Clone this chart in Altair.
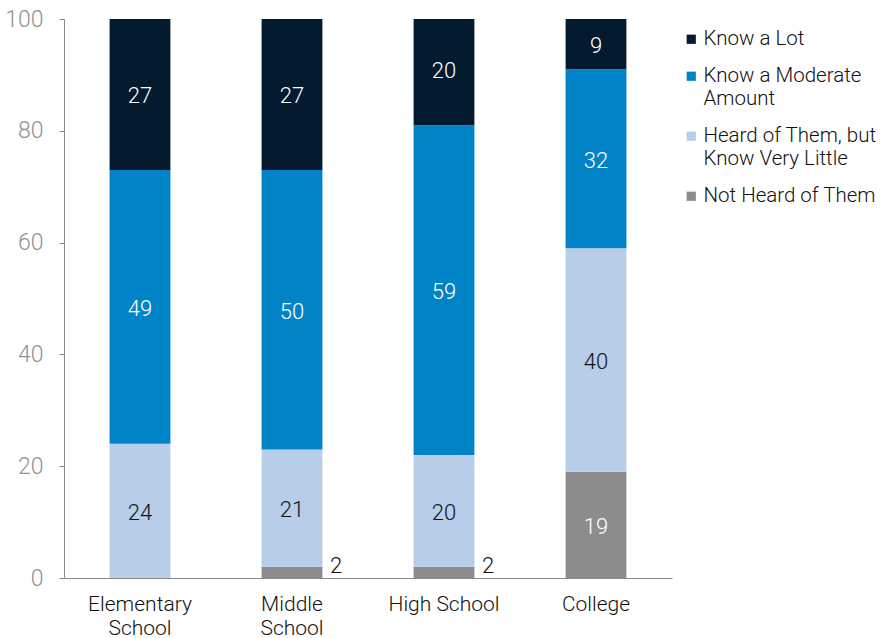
import altair as alt
import pandas as pd

categories = ["Elementary School", "Middle School", "High School", "College"]
tick_lines = [["Elementary", "School"], ["Middle", "School"], ["High School"], ["College"]]
series = ["Not Heard of Them", "Heard of Them, but Know Very Little",
          "Know a Moderate Amount", "Know a Lot"]
legend_lines = {
    "Know a Lot": ["Know a Lot"],
    "Know a Moderate Amount": ["Know a Moderate", "Amount"],
    "Heard of Them, but Know Very Little": ["Heard of Them, but", "Know Very Little"],
    "Not Heard of Them": ["Not Heard of Them"],
}
not_heard = [0, 2, 2, 19]
heard = [24, 21, 20, 40]
moderate = [49, 50, 59, 32]
lot = [27, 27, 20, 9]
colors = ["#041a2f", "#0084c7", "#b8cdea", "#8c8c8c"]
legend_order = ["Know a Lot", "Know a Moderate Amount",
                "Heard of Them, but Know Very Little", "Not Heard of Them"]

rows = []
for si, (s, vals) in enumerate(zip(series, [not_heard, heard, moderate, lot])):
    for c, v in zip(categories, vals):
        rows.append({"cat": c, "series": s, "value": v, "rank": si})
df = pd.DataFrame(rows)

FONT = "Roboto"
FW = 300


def js_list(lst):
    return "[" + ",".join("'" + x + "'" for x in lst) + "]"


xlabel_expr = " : ".join(
    f"datum.label == '{c}' ? {js_list(l)}" for c, l in zip(categories, tick_lines)
) + " : datum.label"
leg_expr = " : ".join(
    f"datum.label == '{k}' ? {js_list(v)}" for k, v in legend_lines.items()
) + " : datum.label"

x = alt.X("cat:N", sort=categories, title=None,
          scale=alt.Scale(paddingInner=0.6, paddingOuter=0.3),
          axis=alt.Axis(labelAngle=0, labelExpr=xlabel_expr, labelFontSize=21,
                        labelColor="#111", labelFont=FONT, labelFontWeight=FW,
                        ticks=False, domainColor="#8a8a8a", labelPadding=15,
                        labelLineHeight=24))

base = alt.Chart(df)

bars = base.mark_bar(clip=True).encode(
    x=x,
    y=alt.Y("value:Q", stack="zero", title=None,
            scale=alt.Scale(domain=[0, 100], nice=False),
            axis=alt.Axis(values=[0, 20, 40, 60, 80, 100], grid=False,
                          labelFontSize=23, labelColor="#929292", labelFont=FONT,
                          labelFontWeight=FW,
                          tickColor="#8a8a8a", domainColor="#8a8a8a", tickSize=5,
                          labelPadding=16)),
    color=alt.Color("series:N", scale=alt.Scale(domain=legend_order, range=colors),
                    sort=legend_order,
                    legend=alt.Legend(title=None, labelExpr=leg_expr, labelFontSize=20.5,
                                      labelFont=FONT, labelFontWeight=FW,
                                      labelColor="#111",
                                      symbolType="square", symbolSize=85,
                                      symbolStrokeWidth=0, rowPadding=16,
                                      labelOffset=2, labelLimit=300,
                                      labelBaseline="middle",
                                      orient="none", legendX=617, legendY=10,
                                      padding=0)),
    order=alt.Order("rank:Q"),
)

inner = base.transform_stack(
    stack="value", groupby=["cat"], sort=[alt.SortField("rank")], as_=["y0", "y1"]
).transform_calculate(
    mid="(datum.y0 + datum.y1) / 2"
)

labels_in = inner.transform_filter("datum.value >= 5").mark_text(
    fontSize=22, font=FONT, fontWeight=FW, baseline="middle", dy=2
).encode(
    x=x,
    y=alt.Y("mid:Q"),
    text="value:Q",
    color=alt.condition("datum.rank == 1", alt.value("#111111"), alt.value("#ffffff")),
)

labels_out = inner.transform_filter("datum.value > 0 && datum.value < 5").mark_text(
    fontSize=22, font=FONT, fontWeight=FW, baseline="bottom", align="left",
    dx=38, dy=6, color="#111111"
).encode(
    x=x,
    y=alt.Y("mid:Q"),
    text="value:Q",
)

chart = alt.layer(bars, labels_in, labels_out).properties(
    width=608, height=559,
    autosize=alt.AutoSizeParams(type="none"),
    padding={"left": 64, "top": 19, "right": 216, "bottom": 60},
).configure_view(stroke=None)

chart.save("out.html", embed_options={"renderer": "svg", "actions": False})
